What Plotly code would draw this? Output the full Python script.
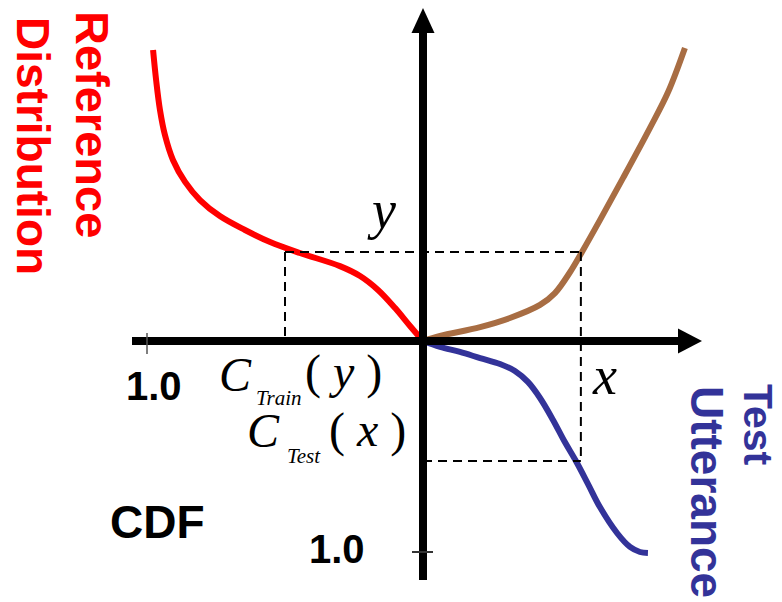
import plotly.graph_objects as go

# Diagram units: 1.0 on each CDF axis marks the tick labelled "1.0"
# reference CDF (red) grows to the left, test CDF (blue) grows downward
ref_x = [-0.978, -0.967, -0.953, -0.935, -0.906, -0.862, -0.808, -0.736, -0.645,
         -0.554, -0.446, -0.301, -0.228, -0.163, -0.101, -0.047, 0.0]
ref_y = [1.379, 1.237, 1.095, 0.976, 0.858, 0.754, 0.668, 0.592, 0.526,
         0.469, 0.417, 0.355, 0.308, 0.242, 0.156, 0.071, 0.0]

# mapping curve (brown)
map_x = [0.0, 0.062, 0.207, 0.315, 0.424, 0.478, 0.533, 0.576, 0.641, 0.725,
         0.822, 0.888, 0.949]
map_y = [0.0, 0.024, 0.066, 0.109, 0.171, 0.227, 0.327, 0.422, 0.573, 0.773,
         1.009, 1.180, 1.389]

# test utterance CDF (blue)
test_x = [0.0, 0.062, 0.134, 0.207, 0.279, 0.333, 0.380, 0.424, 0.471, 0.514,
          0.554, 0.598, 0.641, 0.703, 0.750, 0.786, 0.815]
test_y = [0.0, -0.028, -0.052, -0.081, -0.109, -0.142, -0.194, -0.270, -0.374,
          -0.479, -0.569, -0.678, -0.787, -0.910, -0.976, -1.0, -1.005]

# the worked example (dashed guides)
y_level = 0.422      # y on the mapping curve
c_train = -0.5       # C_Train(y) on the reference axis
x_val = 0.572        # x on the test axis
c_test = -0.569      # C_Test(x)

# canvas geometry (pixels)
W, H = 782, 602
OX, OY = 423, 341     # origin
SX, SY = 276, 211     # pixels per unit


def ux(px):
    return (px - OX) / SX


def uy(py):
    return (OY - py) / SY


RED = "#ff0000"
BROWN = "#a86d43"
BLUE = "#333399"
SANS = "Liberation Sans, Arial, sans-serif"
SERIF = "Liberation Serif, Times New Roman, serif"

fig = go.Figure()

# axes shafts
fig.add_shape(type="line", x0=ux(132), y0=0, x1=ux(680), y1=0,
              line=dict(color="black", width=8))
fig.add_shape(type="line", x0=0, y0=uy(580), x1=0, y1=uy(31),
              line=dict(color="black", width=8))

# arrow heads
fig.add_trace(go.Scatter(
    x=[ux(678), ux(702), ux(678), ux(678)],
    y=[uy(328.5), 0, uy(353.5), uy(328.5)],
    fill="toself", fillcolor="black", mode="lines",
    line=dict(color="black", width=0), showlegend=False, hoverinfo="skip"))
fig.add_trace(go.Scatter(
    x=[ux(411.5), 0, ux(434.5), ux(411.5)],
    y=[uy(33), uy(8), uy(33), uy(33)],
    fill="toself", fillcolor="black", mode="lines",
    line=dict(color="black", width=0), showlegend=False, hoverinfo="skip"))

# ticks at 1.0
fig.add_shape(type="line", x0=-1, y0=uy(333), x1=-1, y1=uy(354),
              line=dict(color="#555555", width=1.5))
fig.add_shape(type="line", x0=ux(412), y0=-1, x1=ux(433), y1=-1,
              line=dict(color="#333333", width=2))

# dashed guides
dash = dict(color="black", width=2, dash="9px,6px")
fig.add_shape(type="line", x0=c_train, y0=y_level, x1=x_val, y1=y_level, line=dash)
fig.add_shape(type="line", x0=c_train, y0=y_level, x1=c_train, y1=0, line=dash)
fig.add_shape(type="line", x0=x_val, y0=y_level, x1=x_val, y1=c_test, line=dash)
fig.add_shape(type="line", x0=0, y0=c_test, x1=x_val, y1=c_test, line=dash)

# curves
fig.add_trace(go.Scatter(x=ref_x, y=ref_y, mode="lines", line_shape="spline",
                         line=dict(color=RED, width=6), showlegend=False))
fig.add_trace(go.Scatter(x=map_x, y=map_y, mode="lines", line_shape="spline",
                         line=dict(color=BROWN, width=6), showlegend=False))
fig.add_trace(go.Scatter(x=test_x, y=test_y, mode="lines", line_shape="spline",
                         line=dict(color=BLUE, width=6), showlegend=False))


def label(text, px, py, size, color="black", family=SANS, angle=0):
    fig.add_annotation(x=ux(px), y=uy(py), text=text, showarrow=False,
                       textangle=angle, xanchor="center", yanchor="middle",
                       borderpad=0,
                       font=dict(family=family, size=size, color=color))


label("<b>Reference</b>", 93, 124, 47, RED, angle=90)
label("<b>Distribution</b>", 33, 146, 46, RED, angle=90)
label("<b>Test</b>", 758, 425, 41, BLUE, angle=90)
label("<b>Utterance</b>", 707, 492, 46, BLUE, angle=90)

label("<b>1.0</b>", 154, 386, 40)
label("<b>1.0</b>", 337, 549, 40)
label("<b>CDF</b>", 157, 522, 46)

label("<i>y</i>", 381, 210, 54, family=SERIF)
label("<i>x</i>", 604, 376, 54, family=SERIF)

label("<i>C</i>", 235, 374, 48, family=SERIF)
label("<i>Train</i>", 279, 398, 21, family=SERIF)
label("( <i>y</i> )", 343, 372, 48, family=SERIF)

label("<i>C</i>", 263, 430, 48, family=SERIF)
label("<i>Test</i>", 304, 456, 21, family=SERIF)
label("( <i>x</i> )", 367, 430, 48, family=SERIF)

fig.update_layout(
    width=W, height=H,
    margin=dict(l=0, r=0, t=0, b=0),
    paper_bgcolor="white", plot_bgcolor="white",
    xaxis=dict(range=[ux(0), ux(W)], visible=False, fixedrange=True),
    yaxis=dict(range=[uy(H), uy(0)], visible=False, fixedrange=True),
    showlegend=False,
)

# drop the browser's default page margin so the figure fills the window
fig.write_html("out.html", config={"displayModeBar": False},
               post_script="document.body.style.margin='0';")
